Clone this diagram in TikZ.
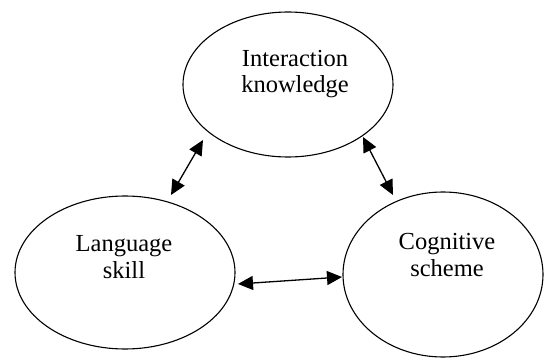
\documentclass[tikz,border=0pt]{standalone}
\usepackage{fontspec}
\setmainfont{Liberation Serif}
\usetikzlibrary{shapes.geometric,arrows.meta}
\tikzset{
  blob/.style={ellipse, draw=black, line width=1.1pt, inner sep=0pt},
  lbl/.style={anchor=base, inner sep=0pt, font=\fontsize{24.5}{27}\selectfont},
  link/.style={line width=1.3pt, {Triangle[length=15pt,width=14pt]}-{Triangle[length=15pt,width=14pt]}}
}
\begin{document}
\begin{tikzpicture}[x=1pt,y=-1pt]
\useasboundingbox (0,0) rectangle (544,358);
% ellipses
\node[blob, minimum width=210pt, minimum height=145pt] (top) at (288,84.5) {};
\node[blob, minimum width=220pt, minimum height=153pt] (left) at (125,272.5) {};
\node[blob, minimum width=200pt, minimum height=165pt] (right) at (443,274.5) {};
% labels
\node[lbl] (t1) at (295,67) {Interaction};
\node[lbl] (t2) at (295,93) {knowledge};
\node[lbl] (l1) at (124,252) {Language};
\node[lbl] (l2) at (124,279) {skill};
\node[lbl] (r1) at (447,250) {Cognitive};
\node[lbl] (r2) at (447,277) {scheme};
% arrow end points
\coordinate (a1t) at (203,140);
\coordinate (a1b) at (171,195);
\coordinate (a2t) at (363,137);
\coordinate (a2b) at (393,195);
\coordinate (a3l) at (238,284);
\coordinate (a3r) at (342,277);
\draw[link] (a1b) -- (a1t);
\draw[link] (a2t) -- (a2b);
\draw[link] (a3l) -- (a3r);
\end{tikzpicture}
\end{document}
